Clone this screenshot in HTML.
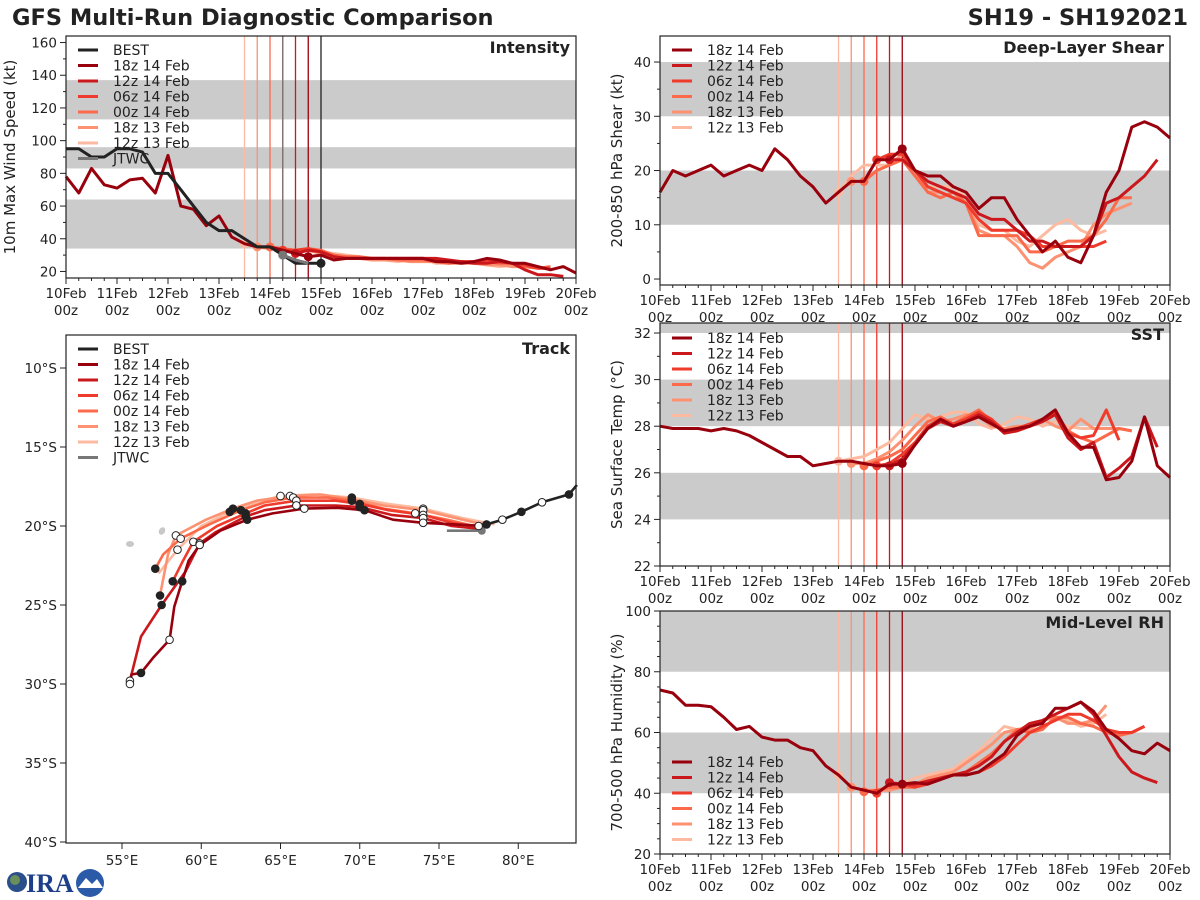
<!DOCTYPE html>
<html><head><meta charset="utf-8"><style>
body{margin:0;background:#fff}
svg{display:block;font-family:"DejaVu Sans","Liberation Sans",sans-serif}
</style></head><body>
<svg id="s" width="1200" height="900" viewBox="0 0 1200 900">
<text x="12" y="25" font-size="22.5" font-weight="bold" fill="#222">GFS Multi-Run Diagnostic Comparison</text>
<text x="1188" y="25" font-size="22.5" font-weight="bold" fill="#222" text-anchor="end">SH19 - SH192021</text>
<g>
<circle cx="17" cy="882" r="10" fill="#2a4f8a"/><circle cx="15" cy="880" r="5" fill="#6a8f5a"/>
<text x="26" y="892" font-size="26" font-weight="bold" fill="#1d3f8a" font-family="Liberation Serif,serif">IRA</text>
<circle cx="90" cy="883" r="14" fill="#2a5aa8"/><path d="M78 888 L86 878 L92 884 L97 879 L103 888 Z" fill="#fff"/>
</g>
</svg>
<script>
// ---------- data ----------
const runNames=["18z 14 Feb","12z 14 Feb","06z 14 Feb","00z 14 Feb","18z 13 Feb","12z 13 Feb"];
const runColors=["#99000d","#cb181d","#ef3b2c","#fb6a4a","#fc9272","#fcbba1"];
const runInit=[14.75,14.5,14.25,14.0,13.75,13.5];
const dayLabels=["10Feb","11Feb","12Feb","13Feb","14Feb","15Feb","16Feb","17Feb","18Feb","19Feb","20Feb"];
// intensity (kt)
const bestStart=10.0;
const bestVmax=[95,95,90,90,95,95,93,80,80,70,60,50,45,45,40,35,35,30,25,25,25];
const jtwcStart=14.25;
const jtwcVmax=[30,27,25];
const int18z14=[78,68,83,73,71,76,77,68,91,60,58,48,54,41,37,35,35,33,31,29,30,27,28,28,28,28,28,28,28,26,26,25,26,28,27,25,25,23,21,23,19];
const int12z14=[31,33,32,29,28,28,28,28,28,28,28,28,27,26,25,25,26,25,21,18,18,17];
const int06z14=[33,33,34,32,29,28,28,28,28,28,28,28,27,26,26,26,27,26,25,24,22,22];
const int00z14=[35,34,33,34,33,30,29,29,28,28,27,27,27,26,25,26,26,26,25,25,23,22,23];
const int18z13=[35,34,33,33,33,31,30,29,28,27,27,27,26,26,26,25,25,25,24,24,23,23,22,22];
const int12z13=[37,35,34,33,32,33,32,31,30,29,28,27,26,27,28,25,25,26,25,24,23,24,23];
// shear (kt)
const shr18z14=[16,20,19,20,21,19,20,21,20,24,22,19,17,14,16,18,18,22,22,24,20,19,19,17,16,13,15,15,11,8,5,7,4,3,8,16,20,28,29,28,26];
const shr12z14=[22,22,20,18,17,16,15,12,11,11,9,7,7,6,6,6,8,14,15,17,19,22];
const shr06z14=[22,23,23,20,17,16,15,14,11,9,9,9,8,6,6,6,6,6,7];
const shr00z14=[18,20,21,22,19,16,15,16,14,8,8,8,8,5,5,6,7,7,8,11,15,15];
const shr18z13=[18,18,20,21,23,20,16,16,15,14,9,8,8,6,3,2,4,5,6,10,12,13,14];
const shr12z13=[16,19,21,21,21,22,19,17,17,17,15,10,9,9,7,6,8,10,11,9,8,9];
// SST (C)
const sst18z14=[28.0,27.9,27.9,27.9,27.8,27.9,27.8,27.6,27.3,27.0,26.7,26.7,26.3,26.4,26.5,26.5,26.4,26.3,26.3,26.4,27.2,27.9,28.3,28.0,28.2,28.4,28.1,27.8,27.9,28.0,28.3,28.7,27.7,27.1,27.1,25.7,25.8,26.5,28.4,26.3,25.8];
const sst12z14=[26.3,26.6,27.2,27.9,28.2,28.0,28.2,28.5,28.2,27.7,27.8,28.0,28.2,28.5,27.5,27.0,27.3,25.8,26.2,26.7,28.4,27.1];
const sst06z14=[26.3,26.4,26.8,27.3,28.0,28.3,28.1,28.3,28.6,28.3,27.8,27.9,28.1,28.3,28.6,27.7,27.5,27.6,28.7,27.4];
const sst00z14=[26.3,26.5,26.7,27.0,27.6,28.2,28.4,28.1,28.4,28.7,28.2,27.7,27.8,28.0,28.2,28.5,27.8,27.5,27.3,27.6,27.9,27.8];
const sst18z13=[26.4,26.4,26.6,26.9,27.4,28.0,28.5,28.2,28.3,28.5,28.4,28.0,27.9,28.0,28.0,28.3,28.0,27.8,28.3,27.9,27.9,27.9,27.8];
const sst12z13=[26.5,26.6,26.7,27.0,27.3,27.9,28.5,28.3,28.4,28.6,28.6,28.1,27.9,28.1,28.4,28.3,28.0,28.2,28.0,27.9,27.9,27.9];
// RH (%)
const rh18z14=[74,73,69,69,68.5,65,61,62,58.5,57.5,57.5,55,54,49,46,42,41,40,43,43,43.5,43,44.5,46,46,47,50,53,59,62,63,68,68,70,67,61,58,54,53,56.5,54];
const rh12z14=[43.5,43,43,44,45,46,47,49,52,57,60,63,64,66,68,70,66,59,52,47,45,43.5];
const rh06z14=[40,43,43,42,43,45,46,46,47,49,52,56,60,62,64,66,66,64,61,60,60,62];
const rh00z14=[40.5,41,42,42,42,44,45,46,47,50,53,57,61,60,61,65,65,63,62,60,59,60,62];
const rh18z13=[42,41,41,41,42,43,45,46,47,50,53,56,60,61,61,64,65,63,63,64,69];
const rh12z13=[46,42,41,41,42,43,45,46,47,48,51,54,58,62,61,62,64,65,64,62,63,66];
// tracks (lon E, lat)
const bestLon=[83.7,83.2,81.5,80.2,79.0,78.0,77.5];
const bestLat=[-17.4,-18.0,-18.5,-19.1,-19.6,-19.9,-20.0];
const jtwcLon=[75.5,77.7];
const jtwcLat=[-20.3,-20.3];
const trk18z14Lon=[78.0,76.0,74.0,72.1,70.3,68.6,66.5,64.5,62.9,61.2,59.9,59.2,58.8,58.3,58.0,57.0,56.2,55.6,55.5];
const trk18z14Lat=[-20.0,-19.9,-19.8,-19.6,-19.0,-18.85,-18.9,-19.2,-19.6,-20.3,-21.2,-22.2,-23.5,-25.1,-27.2,-28.3,-29.3,-29.4,-30.0];
const trk12z14Lon=[77.8,75.8,74.0,72.0,70.0,68.5,66.0,64.0,62.8,60.9,59.9,59.0,57.5,56.2,55.5];
const trk12z14Lat=[-20.2,-20.0,-19.5,-19.3,-18.8,-18.7,-18.7,-19.0,-19.4,-20.4,-21.1,-22.9,-25.0,-27.0,-29.8];
const trk06z14Lon=[77.6,75.8,74.0,71.8,70.0,68.5,66.0,64.0,62.8,61.0,59.5,58.8,58.2];
const trk06z14Lat=[-20.1,-19.8,-19.3,-19.0,-18.6,-18.4,-18.4,-18.7,-19.2,-20.0,-21.0,-22.3,-23.5];
const trk00z14Lon=[77.2,75.5,73.5,71.5,69.5,68.0,65.8,64.0,62.5,60.5,58.7,57.6,57.1];
const trk00z14Lat=[-20.0,-19.6,-19.2,-18.9,-18.4,-18.2,-18.2,-18.5,-19.0,-19.9,-20.8,-21.8,-22.7];
const trk18z13Lon=[78.2,76.5,74.0,71.5,69.5,67.5,65.6,63.5,62.0,60.3,58.4,57.9,57.4];
const trk18z13Lat=[-20.0,-19.6,-19.0,-18.7,-18.3,-18.0,-18.1,-18.4,-18.9,-19.6,-20.6,-21.8,-24.4];
const trk12z13Lon=[78.5,76.5,74.0,71.8,69.5,67.0,65.0,63.5,61.8,60.0,58.5,57.3];
const trk12z13Lat=[-19.9,-19.5,-18.9,-18.6,-18.2,-18.0,-18.1,-18.5,-19.1,-20.0,-21.5,-23.0];

const intRuns=[int18z14,int12z14,int06z14,int00z14,int18z13,int12z13];
const shrRuns=[shr18z14,shr12z14,shr06z14,shr00z14,shr18z13,shr12z13];
const sstRuns=[sst18z14,sst12z14,sst06z14,sst00z14,sst18z13,sst12z13];
const rhRuns=[rh18z14,rh12z14,rh06z14,rh00z14,rh18z13,rh12z13];
const trkLons=[trk18z14Lon,trk12z14Lon,trk06z14Lon,trk00z14Lon,trk18z13Lon,trk12z13Lon];
const trkLats=[trk18z14Lat,trk12z14Lat,trk06z14Lat,trk00z14Lat,trk18z13Lat,trk12z13Lat];

// ---------- drawing ----------
const S=document.getElementById('s');
const NS="http://www.w3.org/2000/svg";
function mk(tag,attrs,parent,txt){const e=document.createElementNS(NS,tag);for(const k in attrs)e.setAttribute(k,attrs[k]);if(txt!==undefined)e.textContent=txt;(parent||S).appendChild(e);return e;}

function panel(o){
  const g=mk('g',{});
  
  
  const X=d=>o.x0+(d-10)*(o.x1-o.x0)/10;
  const Y=v=>o.y1-(v-o.vmin)*(o.y1-o.y0)/(o.vmax-o.vmin);
  o.bands.forEach(b=>{const r=mk('rect',{x:o.x0,y:Y(Math.min(b[1],o.vmax)),width:o.x1-o.x0,height:Y(b[0])-Y(Math.min(b[1],o.vmax)),fill:'#cbcbcb'},g);
    
    });
  for(let i=0;i<=40;i++){const d=10+i*0.25,x=X(d),L=i%4==0?6:3;mk('line',{x1:x,x2:x,y1:o.y1,y2:o.y1+L,stroke:'#222'},g);}
  dayLabels.forEach((lb,i)=>{const x=X(10+i);
    const t=mk('text',{x:x,y:o.y1+20,'font-size':13.5,'text-anchor':'middle',fill:'#222'},g,lb);
    
    
    mk('text',{x:x,y:o.y1+37,'font-size':13.5,'text-anchor':'middle',fill:'#222'},g,'00z');});
  for(let v=o.tmin;v<=o.vmax+1e-6;v+=o.minor){const y=Y(v);const maj=Math.abs((v-o.tmin)/o.step-Math.round((v-o.tmin)/o.step))<1e-6;
    mk('line',{x1:o.x0-(maj?6:3),x2:o.x0,y1:y,y2:y,stroke:'#222'},g);
    if(maj){const t=mk('text',{x:o.x0-9,y:y+5,'font-size':13.5,'text-anchor':'end',fill:'#222'},g,String(v));
      
      }}
  const yt=mk('text',{x:0,y:0,'font-size':15,'text-anchor':'middle',fill:'#222',transform:`translate(${o.ytx},${(o.y0+o.y1)/2}) rotate(-90)`},g,o.ytitle);
  
  
  runInit.forEach((d,i)=>{mk('line',{x1:X(d),x2:X(d),y1:o.y0,y2:o.y1,stroke:runColors[i],'stroke-width':1.3},g);});
  (o.extraV||[]).forEach(v=>mk('line',{x1:X(v[0]),x2:X(v[0]),y1:o.y0,y2:o.y1,stroke:v[1],'stroke-width':1.3},g));
  const series=(arr,start,col,name,w)=>{const pts=arr.map((v,j)=>X(start+j*0.25).toFixed(1)+','+Y(v).toFixed(1)).join(' ');
    const p=mk('polyline',{points:pts,fill:'none',stroke:col,'stroke-width':w||3,'stroke-linejoin':'round'},g);
    
    return p;};
  for(let i=o.runs.length-1;i>=0;i--){const arr=o.runs[i];const start=(i==0&&arr.length>38)?10:runInit[i];
    series(arr,start,runColors[i],'series-'+runNames[i].replace(/ /g,'-').toLowerCase());
    const j=Math.round((runInit[i]-start)/0.25);
    const c=mk('circle',{cx:X(runInit[i]),cy:Y(arr[j]),r:4.5,fill:runColors[i]},g);
    
    }
  (o.post||[]).forEach(f=>f(series,X,Y,g));
  mk('rect',{x:o.x0,y:o.y0,width:o.x1-o.x0,height:o.y1-o.y0,fill:'none',stroke:'#222','stroke-width':1.2},g);
  const pt=mk('text',{x:o.x1-6,y:o.y0+17,'font-size':16,'font-weight':'bold','text-anchor':'end',fill:'#222'},g,o.title);
  
  
  legend(g,o.x0+9,o.ly,o.legend);
}
function legend(g,x,y,items){
  const lg=mk('g',{},g);
  
  
  items.forEach((it,i)=>{const yy=y+i*15.5;
    const e=mk('g',{},lg);
    
    
    mk('line',{x1:x+3,x2:x+23,y1:yy,y2:yy,stroke:it[1],'stroke-width':3},e);
    mk('text',{x:x+38,y:yy+5,'font-size':14,fill:'#222'},e,it[0]);});
}
const runLeg=runNames.map((n,i)=>[n,runColors[i]]);

panel({name:'intensity-panel',x0:66,x1:576,y0:36,y1:278,vmin:16,vmax:164,tmin:20,step:20,minor:10,bands:[[34,64],[83,96],[113,137]],
  ytitle:'10m Max Wind Speed (kt)',ytx:15,title:'Intensity',runs:intRuns,ly:50,
  legend:[['BEST','#222']].concat(runLeg,[['JTWC','#777']]),
  extraV:[[14.25,'#777'],[15.0,'#222']],
  post:[(series,X,Y,g)=>{series(bestVmax,bestStart,'#222','series-best');
    series(jtwcVmax,jtwcStart,'#777','series-jtwc');
    mk('circle',{cx:X(15),cy:Y(bestVmax[bestVmax.length-1]),r:4.5,fill:'#222'},g);
    mk('circle',{cx:X(jtwcStart),cy:Y(jtwcVmax[0]),r:4.5,fill:'#777'},g);}]});
panel({name:'shear-panel',x0:660,x1:1170,y0:36,y1:285,vmin:-1.1,vmax:44.8,tmin:0,step:10,minor:5,bands:[[10,20],[30,40]],
  ytitle:'200-850 hPa Shear (kt)',ytx:622,title:'Deep-Layer Shear',runs:shrRuns,ly:50,legend:runLeg});
panel({name:'sst-panel',x0:660,x1:1170,y0:323,y1:566,vmin:22,vmax:32.43,tmin:22,step:2,minor:1,bands:[[24,26],[28,30],[32,33]],
  ytitle:'Sea Surface Temp (°C)',ytx:622,title:'SST',runs:sstRuns,ly:338,legend:runLeg});
panel({name:'rh-panel',x0:660,x1:1170,y0:611,y1:854,vmin:20,vmax:100,tmin:20,step:20,minor:5,bands:[[40,60],[80,100]],
  ytitle:'700-500 hPa Humidity (%)',ytx:622,title:'Mid-Level RH',runs:rhRuns,ly:762,legend:runLeg});

// track panel
(function(){
  const g=mk('g',{});
  
  
  const x0=66,x1=576,y0=335,y1=843;
  const LX=l=>122+(l-55)*15.85, LY=la=>368+(-la-10)*15.8;
  const is1=mk('ellipse',{cx:130,cy:544,rx:4,ry:3,fill:'#c8c8c8'},g);
  
  
  const is2=mk('ellipse',{cx:162,cy:531,rx:3,ry:4,fill:'#c8c8c8',transform:'rotate(30 162 531)'},g);
  
  
  for(let la=-10;la>=-40;la-=5){const y=LY(la);mk('line',{x1:x0-6,x2:x0,y1:y,y2:y,stroke:'#222'},g);
    const t=mk('text',{x:x0-9,y:y+5,'font-size':13.5,'text-anchor':'end',fill:'#222'},g,(-la)+'°S');
    
    }
  for(let lo=55;lo<=80;lo+=5){const x=LX(lo);mk('line',{x1:x,x2:x,y1:y1,y2:y1+6,stroke:'#222'},g);
    const t=mk('text',{x:x,y:y1+22,'font-size':13.5,'text-anchor':'middle',fill:'#222'},g,lo+'°E');
    
    }
  const line=(lons,lats,col,name)=>{const p=mk('polyline',{points:lons.map((l,j)=>LX(l).toFixed(1)+','+LY(lats[j]).toFixed(1)).join(' '),fill:'none',stroke:col,'stroke-width':2.6,'stroke-linejoin':'round'},g);
    
    };
  for(let i=5;i>=0;i--){line(trkLons[i],trkLats[i],runColors[i],'track-'+runNames[i].replace(/ /g,'-').toLowerCase());}
  for(let i=5;i>=0;i--){trkLons[i].forEach((l,j)=>{if(j>0&&j%2==0){const c=mk('circle',{cx:LX(l),cy:LY(trkLats[i][j]),r:3.8,fill:(j%4==0)?'#222':'#fff',stroke:'#222','stroke-width':1},g);
    
    }});}
  line(jtwcLon,jtwcLat,'#777','track-jtwc');
  mk('circle',{cx:LX(jtwcLon[1]),cy:LY(jtwcLat[1]),r:4,fill:'#777'},g);
  line(bestLon,bestLat,'#222','track-best');
  bestLon.forEach((l,j)=>{if(j>0){mk('circle',{cx:LX(l),cy:LY(bestLat[j]),r:3.8,fill:j%2?'#222':'#fff',stroke:'#222'},g);}});
  mk('rect',{x:x0,y:y0,width:x1-x0,height:y1-y0,fill:'none',stroke:'#222','stroke-width':1.2},g);
  const pt=mk('text',{x:x1-6,y:y0+19,'font-size':16,'font-weight':'bold','text-anchor':'end',fill:'#222'},g,'Track');
  
  
  legend(g,x0+9,349,[['BEST','#222']].concat(runLeg,[['JTWC','#777']]));
})();
</script>
</body></html>
